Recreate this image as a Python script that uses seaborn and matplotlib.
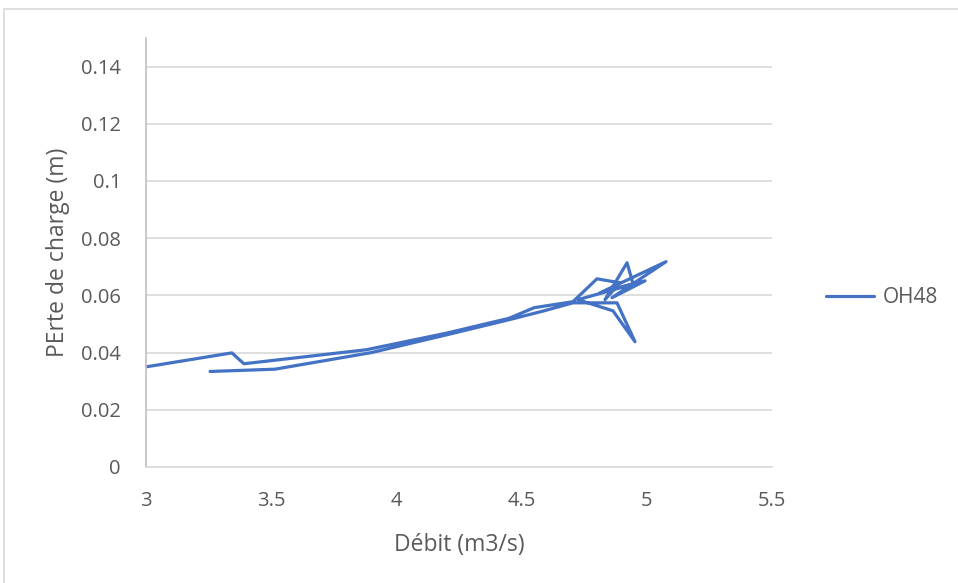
import matplotlib
matplotlib.use("Agg")
import matplotlib.pyplot as plt
import seaborn as sns
import pandas as pd
from matplotlib.patches import Rectangle

# Flow rate (m3/s) and head loss (m) for station OH48, in recording order
debit = [2.95, 3.343, 3.391, 3.88, 4.20, 4.45, 4.55, 4.705,
         4.801, 4.893, 4.833, 4.921, 4.945, 4.813, 5.077, 4.861, 4.993,
         4.725, 4.865, 4.953, 4.881, 4.705,
         4.585, 4.45, 4.20, 3.90, 3.515, 3.256]
perte = [0.0343, 0.0399, 0.0361, 0.0410, 0.0468, 0.0520, 0.0557, 0.0578,
         0.0658, 0.0644, 0.0585, 0.0714, 0.0641, 0.0609, 0.0718, 0.0592, 0.0651,
         0.0585, 0.0546, 0.0438, 0.0574, 0.0574,
         0.0545, 0.0515, 0.0462, 0.0400, 0.0342, 0.0334]
serie = "OH48"

x_ticks = [3, 3.5, 4, 4.5, 5, 5.5]
x_tick_labels = ["3", "3.5", "4", "4.5", "5", "5.5"]
y_ticks = [0, 0.02, 0.04, 0.06, 0.08, 0.1, 0.12, 0.14]
y_tick_labels = ["0", "0.02", "0.04", "0.06", "0.08", "0.1", "0.12", "0.14"]

df = pd.DataFrame({"Débit": debit, "Perte": perte, "Série": serie})

sns.set_theme(style="white")
plt.rcParams["font.family"] = ["Open Sans", "DejaVu Sans"]

fig = plt.figure(figsize=(9.58, 5.83), dpi=100)
ax = fig.add_axes([146 / 958, 1 - 467 / 583, (772 - 146) / 958, (467 - 38) / 583])

# chart-area frame
fig.patches.append(Rectangle((4 / 958, -0.1), 1.2, 1 - 9 / 583 + 0.1,
                             transform=fig.transFigure, fill=False,
                             edgecolor="#d9d9d9", linewidth=1.2, zorder=0))

sns.lineplot(data=df, x="Débit", y="Perte", hue="Série", sort=False,
             estimator=None, palette=["#4472C4"], linewidth=2.3, ax=ax)

ax.set_xlim(3, 5.5)
ax.set_ylim(0, 0.15)
ax.set_xticks(x_ticks)
ax.set_xticklabels(x_tick_labels)
ax.set_yticks(y_ticks)
ax.set_yticklabels(y_tick_labels)
ax.yaxis.grid(True, color="#d9d9d9", linewidth=1.2)
ax.set_axisbelow(True)
for side in ["top", "right"]:
    ax.spines[side].set_visible(False)
ax.spines["left"].set_color("#bfbfbf")
ax.spines["bottom"].set_color("#d9d9d9")
ax.spines["left"].set_linewidth(1.2)
ax.spines["bottom"].set_linewidth(1.2)
ax.tick_params(axis="y", length=0, labelsize=14.5, colors="#595959", pad=18)
ax.tick_params(axis="x", length=0, labelsize=14.5, colors="#595959", pad=17)

ax.set_xlabel("Débit (m3/s)", fontsize=16.5, color="#595959", labelpad=16)
ax.set_ylabel("PErte de charge (m)", fontsize=16.5, color="#595959", labelpad=8)

leg = ax.legend(loc="center left", bbox_to_anchor=(1.057, 0.394), frameon=False,
                fontsize=15, handlelength=2.3, handletextpad=0.4)
for t in leg.get_texts():
    t.set_color("#595959")

fig.savefig("out.png", dpi=100, facecolor="white")
